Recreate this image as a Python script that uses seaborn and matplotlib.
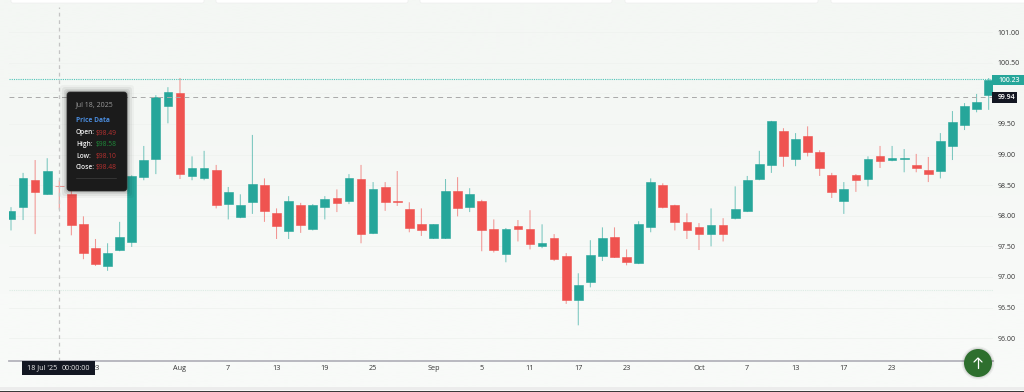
import matplotlib
matplotlib.use("Agg")
import numpy as np
import pandas as pd
import seaborn as sns
from matplotlib import pyplot as plt
from matplotlib.patches import Circle, FancyBboxPatch, Rectangle

# price candles
highs = [98.14, 98.70, 98.91, 98.94, 98.58, 98.42, 97.99, 97.62, 97.55, 97.90,
         98.66, 99.14, 99.97, 100.10, 100.25, 98.97, 99.06, 98.83, 98.47, 98.35,
         99.32, 98.61, 98.12, 98.32, 98.21, 98.19, 98.32, 98.43, 98.68, 98.83,
         98.55, 98.55, 98.73, 98.22, 98.12, 97.86, 98.60, 98.63, 98.45, 98.26,
         97.94, 97.80, 97.93, 98.09, 97.86, 97.70, 97.39, 97.06, 97.60, 97.81,
         97.81, 97.45, 97.91, 98.61, 98.53, 98.18, 98.04, 97.88, 98.12, 97.96,
         98.48, 98.65, 99.06, 99.55, 99.43, 99.35, 99.46, 99.07, 98.70, 98.55,
         98.68, 98.97, 99.14, 99.14, 99.09, 99.01, 98.96, 99.35, 99.71, 99.84,
         99.99, 100.25]
body_tops = [98.08, 98.61, 98.58, 98.73, 98.49, 98.35, 97.86, 97.47, 97.39, 97.65,
             98.65, 98.91, 99.94, 100.02, 100.00, 98.78, 98.78, 98.75, 98.39, 98.17,
             98.52, 98.50, 98.04, 98.24, 98.17, 98.17, 98.27, 98.29, 98.61, 98.60,
             98.43, 98.47, 98.24, 98.11, 97.86, 97.86, 98.40, 98.40, 98.35, 98.24,
             97.78, 97.78, 97.83, 97.78, 97.55, 97.63, 97.34, 96.87, 97.36, 97.63,
             97.65, 97.32, 97.86, 98.55, 98.50, 98.17, 97.90, 97.81, 97.85, 97.85,
             98.11, 98.58, 98.84, 99.55, 99.38, 99.25, 99.30, 99.04, 98.66, 98.43,
             98.66, 98.92, 98.97, 98.94, 98.95, 98.83, 98.75, 99.22, 99.53, 99.79,
             99.86, 100.22]
body_bottoms = [97.94, 98.14, 98.39, 98.35, 98.48, 97.85, 97.39, 97.21, 97.18, 97.44,
                97.57, 98.63, 98.92, 99.79, 98.68, 98.65, 98.61, 98.17, 98.19, 97.98,
                98.22, 98.08, 97.83, 97.75, 97.85, 97.78, 98.14, 98.21, 98.24, 97.70,
                97.72, 98.22, 98.22, 97.80, 97.76, 97.63, 97.63, 98.12, 98.14, 97.76,
                97.44, 97.37, 97.78, 97.54, 97.50, 97.29, 96.62, 96.62, 96.92, 97.34,
                97.32, 97.24, 97.23, 97.81, 98.14, 97.90, 97.76, 97.70, 97.70, 97.70,
                97.96, 98.08, 98.60, 98.83, 98.97, 98.92, 99.04, 98.78, 98.39, 98.24,
                98.58, 98.60, 98.89, 98.91, 98.93, 98.78, 98.68, 98.73, 99.14, 99.48,
                99.74, 99.97]
lows = [97.76, 97.93, 97.70, 98.34, 98.10, 97.68, 97.29, 97.18, 97.10, 97.42,
        97.49, 98.58, 98.68, 99.51, 98.60, 98.58, 98.58, 98.12, 97.94, 97.96,
        98.03, 97.90, 97.62, 97.62, 97.72, 97.76, 97.94, 98.06, 98.19, 97.55,
        97.70, 98.08, 98.16, 97.73, 97.67, 97.62, 97.62, 97.99, 98.06, 97.42,
        97.40, 97.24, 97.58, 97.45, 97.47, 97.26, 96.56, 96.21, 96.83, 97.26,
        97.31, 97.19, 97.21, 97.73, 98.12, 97.76, 97.62, 97.44, 97.50, 97.58,
        97.94, 98.06, 98.58, 98.70, 98.80, 98.81, 98.97, 98.65, 98.29, 98.03,
        98.39, 98.48, 98.78, 98.89, 98.71, 98.71, 98.55, 98.61, 98.91, 99.40,
        99.69, 99.73]
rising = [1, 1, 0, 1, 0, 0, 0, 0, 1, 1,
          1, 1, 1, 1, 0, 1, 1, 0, 1, 1,
          1, 0, 0, 1, 0, 1, 1, 0, 1, 0,
          1, 0, 0, 0, 0, 1, 1, 0, 1, 0,
          0, 1, 0, 0, 1, 0, 0, 1, 1, 1,
          0, 0, 1, 1, 0, 0, 0, 0, 1, 0,
          1, 1, 1, 1, 0, 1, 0, 0, 0, 1,
          0, 1, 0, 1, 1, 0, 0, 1, 1, 1,
          1, 1]

tick_positions = [7, 14, 18, 22, 26, 30, 35, 39, 43, 47, 51, 57, 61, 65, 69, 73]
tick_labels = ["23", "Aug", "7", "13", "19", "25", "Sep", "5", "11", "17", "23",
               "Oct", "7", "13", "17", "23"]
price_ticks = [96.0, 96.5, 97.0, 97.5, 98.0, 98.5, 99.0, 99.5, 100.0, 100.5, 101.0]
# the 100.00 label sits under the cursor price tag
price_labels = ["96.00", "96.50", "97.00", "97.50", "98.00", "98.50", "99.00", "99.50",
                "", "100.50", "101.00"]
last_price = 100.23
cursor_price = 99.94
cursor_index = 4
base_price = 96.78

tooltip_rows = [("Open:", "$98.49", "#b5302f"), ("High:", "$98.58", "#1f8a3a"),
                ("Low:", "$98.10", "#b5302f"), ("Close:", "$98.48", "#b5302f")]

GREEN = "#26a69a"
RED = "#ef5350"
BG = "#f6f8f6"
FONT = "Open Sans"

df = pd.DataFrame({"idx": range(len(highs)), "high": highs, "top": body_tops,
                   "bottom": body_bottoms, "low": lows, "rising": rising})
df["height"] = df["top"] - df["bottom"]

sns.set_theme(style="whitegrid")
plt.rcParams["font.family"] = FONT

fig = plt.figure(figsize=(10.24, 3.92), dpi=100, facecolor=BG)

# panel background gets slightly paler towards the bottom
back = fig.add_axes([0, 0, 1, 1])
back.axis("off")
shade = np.array([[244.0, 247.0, 244.0], [248.0, 250.0, 248.0]]) / 255
back.imshow(shade[np.newaxis, :, :].transpose(1, 0, 2), aspect="auto", interpolation="bilinear")

ax = fig.add_axes([9 / 1024, 1 - 360.5 / 392, 984 / 1024, 353.5 / 392], facecolor="none")

# wicks first, bodies over them
for is_up, color in [(1, GREEN), (0, RED)]:
    part = df[df["rising"] == is_up]
    wicks = ax.vlines(part["idx"], part["low"], part["high"], color=color,
                      linewidth=0.75, alpha=0.6, zorder=2)
    wicks.set_snap(False)
    sns.barplot(data=part, x="idx", y="height", bottom=part["bottom"].values,
                native_scale=True, color=color, saturation=1, width=0.72,
                errorbar=None, edgecolor=color, linewidth=0.4, ax=ax, zorder=3)

ax.set_xlim(-0.166, 81.36)
ax.set_ylim(95.635, 101.41)
ax.set_xlabel("")
ax.set_ylabel("")
ax.set_xticks(tick_positions, tick_labels)
ax.set_yticks(price_ticks, price_labels)
ax.yaxis.tick_right()
ax.tick_params(axis="x", length=0, pad=3.5, labelsize=5.2, colors="#333333")
ax.tick_params(axis="y", length=0, pad=3.5, labelsize=5.0, colors="#333333")
ax.grid(axis="x", visible=False)
ax.grid(axis="y", color="#f0f3f0", linewidth=0.7)
for side in ["top", "left", "right"]:
    ax.spines[side].set_visible(False)
ax.spines["bottom"].set_color("#b4b4bc")
ax.spines["bottom"].set_linewidth(1.3)

ax.axhline(base_price, color="#dcece4", linewidth=0.8, linestyle=(0, (1, 1)), zorder=1)
ax.axhline(last_price, color="#4fc4b8", linewidth=0.8, linestyle=(0, (1, 1)), zorder=4)
ax.axhline(cursor_price, color="#a9a9a9", linewidth=0.7, linestyle=(0, (5, 4)), zorder=4)
ax.axvline(cursor_index, color="#c4c4c4", linewidth=0.9, linestyle=(0, (3, 3)), zorder=4)

# page furniture drawn in pixel coordinates
over = fig.add_axes([0, 0, 1, 1], facecolor="none")
over.set_xlim(0, 1024)
over.set_ylim(392, 0)
over.axis("off")

for left, right in [(11, 204), (216, 408), (420, 612), (625, 818), (831, 1030)]:
    over.add_patch(FancyBboxPatch((left + 2, -8), right - left - 4, 9,
                                  boxstyle="round,pad=2", fc="white", ec="#ececec", lw=0.4))

over.add_patch(Rectangle((0, 387), 1024, 3, fc="#ececec", ec="none"))
over.add_patch(Rectangle((0, 390.5), 1024, 2, fc="#3a3a3a", ec="none"))

# tooltip with a soft shadow
for grow, alpha in [(7, 0.03), (5, 0.05), (3, 0.07), (1.5, 0.1)]:
    over.add_patch(FancyBboxPatch((70 - grow, 95 - grow), 54 + 2 * grow, 93 + 2 * grow,
                                  boxstyle="round,pad=3", fc="black", ec="none", alpha=alpha))
over.add_patch(FancyBboxPatch((70, 95), 54, 93, boxstyle="round,pad=3",
                              fc="#1b1b1b", ec="#2a2a2a", lw=0.5))
over.text(76, 105, "Jul 18, 2025", color="#9a9a9a", fontsize=5.0, va="center")
over.text(76, 120, "Price Data", color="#4a8bdc", fontsize=4.8, fontweight="bold", va="center")
for row, (name, value, color) in zip([133, 144.5, 156.5, 167.5], tooltip_rows):
    over.text(76, row, name, color="#eeeeee", fontsize=4.8, fontweight="semibold", va="center")
    over.text(96, row, value, color=color, fontsize=4.8, va="center")
over.plot([76, 116], [178, 178], color="#3a3a3a", lw=0.6)

# price and time tags
over.add_patch(Rectangle((992, 75), 32, 9.5, fc=GREEN, ec="none"))
over.text(998, 80, f"{last_price:.2f}", color="#e8f5f3", fontsize=5.0, fontweight="semibold",
          va="center")
over.add_patch(Rectangle((992, 91.5), 25, 11.5, fc="#131722", ec="none"))
over.text(998, 97.5, f"{cursor_price:.2f}", color="white", fontsize=5.0, fontweight="semibold",
          va="center")
over.add_patch(Rectangle((22, 361), 73, 13.5, fc="#131722", ec="none"))
over.text(27, 368, "18 Jul '25", color="#e8e8e8", fontsize=5.2, va="center")
over.text(62, 368, "00:00:00", color="#e8e8e8", fontsize=5.2, va="center")

# scroll to top button
for grow, alpha in [(2.5, 0.05), (1.2, 0.08)]:
    over.add_patch(Circle((978, 363), 14 + grow, fc="black", ec="none", alpha=alpha))
over.add_patch(Circle((978, 363), 14, fc="#2e6f2e", ec="none"))
over.plot([978, 978], [358, 368], color="white", lw=0.9, solid_capstyle="round")
over.plot([974, 978, 982], [362, 358, 362], color="white", lw=0.9, solid_capstyle="round")

fig.savefig("out.png", dpi=100, facecolor=BG)
